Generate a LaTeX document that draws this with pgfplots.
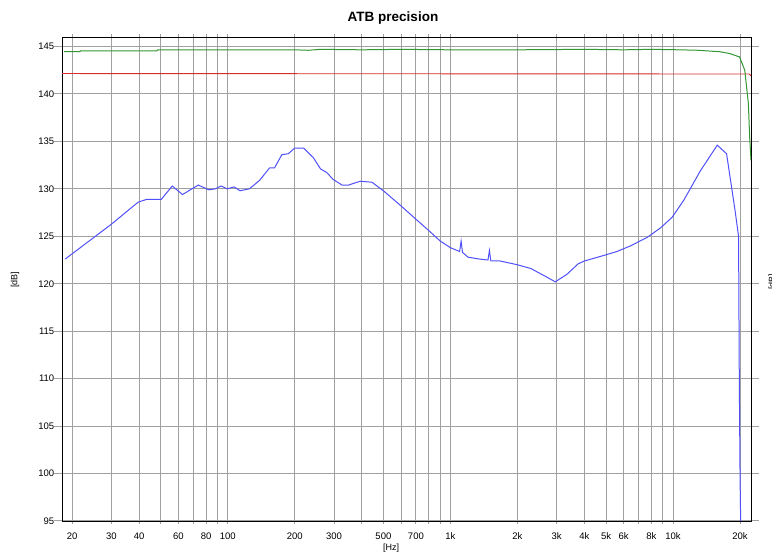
\documentclass[border=0pt]{standalone}
\usepackage{pgfplots}
\pgfplotsset{compat=1.18}
\usepackage{fontspec}
\setmainfont{Liberation Sans}
\definecolor{gridgray}{RGB}{160,160,160}
\definecolor{cblue}{RGB}{80,80,250}
\definecolor{cgreen}{RGB}{50,150,50}
\definecolor{cred}{RGB}{215,45,45}
\begin{document}
\begin{tikzpicture}[x=1pt,y=1pt]
\useasboundingbox (0,0) rectangle (772,554);
\begin{axis}[at={(62pt,33pt)}, anchor=south west, scale only axis,
  width=689pt, height=484pt,
  xmode=log, xmin=18, xmax=22400, ymin=95, ymax=146,
  xtick={20,30,40,60,80,100,200,300,500,700,1000,2000,3000,4000,5000,6000,8000,10000,20000},
  xticklabels={20,30,40,60,80,100,200,300,500,700,1k,2k,3k,4k,5k,6k,8k,10k,20k},
  minor xtick={50,70,90,400,600,800,900,7000,9000},
  ytick={95,100,...,145},
  grid=both,
  major grid style={gridgray, line width=1pt},
  minor grid style={gridgray, line width=1pt},
  tick align=outside,
  xtick style={gridgray, line width=1pt, /pgfplots/major tick length=3pt, /pgfplots/minor tick length=3pt},
  ytick style={gridgray, line width=1pt, /pgfplots/major tick length=8pt},
  axis line style={black, line width=0.9pt},
  tick label style={font=\fontsize{9.5}{10}\selectfont},
  xticklabel style={yshift=-4pt},
  /pgf/number format/assume math mode=true,
]
\addplot[cred, line width=0.9pt, mark=none] coordinates {
(18,142.15) (22000,142.1) (22400,141.9)};
\addplot[cgreen, line width=1pt, mark=none] coordinates {
(18.4,144.45) (21.7,144.45) (21.8,144.55) (48,144.55) (48.5,144.65)
(200,144.65) (230,144.6) (260,144.7) (400,144.65) (600,144.7) (1000,144.65)
(2000,144.65) (4000,144.7) (6000,144.65) (8000,144.7) (10700,144.65)
(13000,144.6) (15000,144.5) (16250,144.45) (18000,144.25) (19900,143.9)
(21000,142.5) (21800,139) (22100,135.4) (22400,133)};
\addplot[cblue, line width=1pt, mark=none] coordinates {
(18.6,122.6) (30.1,126.3) (36.4,127.9) (39.6,128.6) (43.3,128.9) (50.3,128.9)
(56.3,130.3) (62.6,129.4) (73.7,130.4) (82.1,129.9) (87.9,130.0) (93.3,130.3)
(99.2,130.0) (106.7,130.2) (113.5,129.8) (125,130.0) (139,130.9) (154,132.2)
(162,132.2) (175,133.6) (187,133.7) (200,134.3) (219,134.3) (242,133.3)
(261,132.1) (279,131.7) (297,131.0) (326,130.4) (349,130.4) (393,130.8)
(444,130.7) (474,130.2) (500,129.8) (600,128.2) (700,126.8) (800,125.6)
(900,124.5) (1000,123.8) (1100,123.4) (1117,124.5) (1133,123.3) (1200,122.8)
(1350,122.6) (1475,122.5) (1497,123.5) (1519,122.4) (1670,122.4) (2000,122.0)
(2300,121.6) (2710,120.7) (2960,120.2) (3340,121.0) (3750,122.1) (4000,122.4)
(5000,123.05) (5600,123.4) (6456,124.0) (7670,124.9) (8804,125.9) (9904,127.0)
(11175,128.8) (13270,131.9) (15800,134.6) (17400,133.7) (19000,127.7)
(19700,125.0) (19850,110) (20000,100) (20150,94)};
\end{axis}
\node[font=\bfseries\fontsize{13.5}{15}\selectfont] at (393,536) {ATB precision};
\node[rotate=90, font=\fontsize{9}{10}\selectfont] at (15,274) {[dB]};
\node[font=\fontsize{9}{10}\selectfont] at (391,6) {[Hz]};
\node[rotate=90, anchor=north, font=\fontsize{9}{10}\selectfont] at (765,272) {[dB]};
\end{tikzpicture}
\end{document}
